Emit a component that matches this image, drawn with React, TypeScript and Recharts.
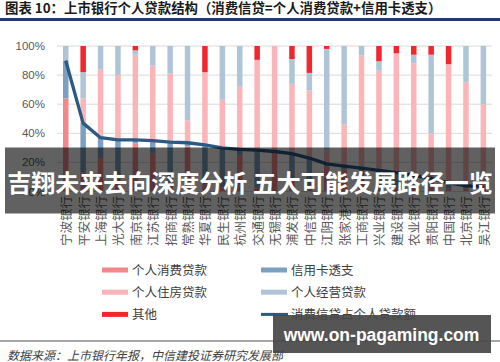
import React from 'react';
import { ComposedChart, Bar, Line, XAxis, YAxis, CartesianGrid } from 'recharts';

const banks = [
  '宁波银行', '平安银行', '上海银行', '光大银行', '南京银行', '江苏银行', '招商银行', '常熟银行',
  '华夏银行', '民生银行', '杭州银行', '交通银行', '无锡银行', '浦发银行', '中信银行', '江阴银行',
  '张家港行', '工商银行', '兴业银行', '建设银行', '农业银行', '贵阳银行', '中国银行', '北京银行', '吴江银行',
];
const consumerLoans = [64, 13, 23, 8, 33, 26, 6, 31, 5, 3, 25, 3, 27.5, 8, 4, 17, 15, 7, 2, 3, 4, 7, 2, 2, 2];
const cardOverdraft = [26, 34, 14, 27.5, 2.5, 9, 28, 2.5, 27, 27, 4, 25.5, 0, 18, 19, 2, 2.5, 9, 12.5, 10, 7, 2, 4, 2, 1];
const housingLoans = [0, 17, 47, 44.5, 58.5, 51.5, 47, 15.5, 50, 33, 43, 62, 72.5, 48, 46.5, 9, 28.5, 77.5, 68.5, 82, 77, 31, 81.5, 71, 57];
const businessLoans = [10, 18, 16, 20, 3, 13.5, 19, 51, 0, 37, 28, 0, 0, 17, 12, 70, 54, 6.5, 6.5, 0, 6, 54, 0, 25, 40];
const otherLoans = [0, 18, 0, 0, 3, 0, 0, 0, 18, 0, 0, 9.5, 0, 9, 18.5, 2, 0, 0, 10.5, 5, 6, 6, 12.5, 0, 0];
const consumerShare = [90, 47, 37, 35.5, 35.5, 35, 34, 33.5, 32, 30, 29, 28.5, 27.5, 26, 23, 19, 17.5, 16, 14.5, 13, 11, 9, 6, 4, 3];
const yTicks = [0, 10, 20, 30, 40, 50, 60, 70, 80, 90, 100];

const titleText = '图表 10：上市银行个人贷款结构（消费信贷=个人消费贷款+信用卡透支）';
const bannerText = '吉翔未来去向深度分析 五大可能发展路径一览';
const watermarkText = 'www.on-pagaming.com';
const sourceText = '数据来源：上市银行年报，中信建投证券研究发展部';

const C_CONSUMER = '#F4878B';
const C_CARD = '#7DA0C0';
const C_HOUSING = '#FBB4B7';
const C_BUSINESS = '#AFC5D7';
const C_OTHER = '#F2262D';
const C_LINE = '#2B5A82';

const legendItems = [
  { label: '个人消费贷款', color: C_CONSUMER, kind: 'bar' },
  { label: '信用卡透支', color: C_CARD, kind: 'bar' },
  { label: '个人住房贷款', color: C_HOUSING, kind: 'bar' },
  { label: '个人经营贷款', color: C_BUSINESS, kind: 'bar' },
  { label: '其他', color: C_OTHER, kind: 'bar' },
  { label: '消费信贷占个人贷款额', color: C_LINE, kind: 'line' },
];

const data = banks.map((name, i) => ({
  name,
  consumer: consumerLoans[i],
  card: cardOverdraft[i],
  housing: housingLoans[i],
  business: businessLoans[i],
  other: otherLoans[i],
  share: consumerShare[i],
}));

const CJK = '"Noto Sans CJK SC", "Noto Sans", sans-serif';

const XTick = (props: any) => {
  const { x, y, payload } = props;
  const ty = y + 4.5;
  return (
    <text
      x={x}
      y={ty}
      transform={`rotate(-90 ${x} ${ty})`}
      textAnchor="end"
      dominantBaseline="central"
      fontSize={12.5}
      fill="#595959"
      fontFamily={CJK}
    >
      {payload.value}
    </text>
  );
};

export default function App() {
  return (
    <div style={{ position: 'absolute', left: 0, top: 0, width: 500, height: 362, background: '#fff', overflow: 'hidden' }}>
      <div style={{ position: 'absolute', left: 0, top: 0 }}>
        <ComposedChart width={500} height={262} data={data} margin={{ top: 46, right: 8, bottom: 0, left: 0 }}>
          <CartesianGrid vertical={false} stroke="#D9D9D9" />
          <XAxis
            dataKey="name"
            interval={0}
            height={70.5}
            tickLine={false}
            tickSize={0}
            tickMargin={0}
            axisLine={{ stroke: '#D9D9D9' }}
            tick={<XTick />}
          />
          <YAxis
            width={57}
            domain={[0, 100]}
            ticks={yTicks}
            tickFormatter={(v: number) => `${v}%`}
            axisLine={false}
            tickLine={false}
            tickSize={0}
            tickMargin={12}
            tick={{ fontSize: 11.5, fill: '#595959', fontFamily: '"Liberation Sans", Arial, sans-serif' }}
          />
          <Bar dataKey="consumer" stackId="a" fill={C_CONSUMER} barSize={5.5} isAnimationActive={false} />
          <Bar dataKey="card" stackId="a" fill={C_CARD} barSize={5.5} isAnimationActive={false} />
          <Bar dataKey="housing" stackId="a" fill={C_HOUSING} barSize={5.5} isAnimationActive={false} />
          <Bar dataKey="business" stackId="a" fill={C_BUSINESS} barSize={5.5} isAnimationActive={false} />
          <Bar dataKey="other" stackId="a" fill={C_OTHER} barSize={5.5} isAnimationActive={false} />
          <Line
            dataKey="share"
            type="linear"
            stroke={C_LINE}
            strokeWidth={3.3}
            strokeLinejoin="round"
            dot={false}
            activeDot={false}
            isAnimationActive={false}
          />
        </ComposedChart>
      </div>
      <svg width={500} height={362} style={{ position: 'absolute', left: 0, top: 0 }}>
        <text x={5} y={13.2} fontSize={13.4} fontWeight="bold" fill="#1a1a1a" fontFamily={CJK}>{titleText}</text>
        <rect x={0} y={18} width={500} height={3} fill="#1F3B6B" />
        {legendItems.map((it, i) => {
          const col = i % 2;
          const row = Math.floor(i / 2);
          const cy = 270 + row * 22.2;
          const sx = col === 0 ? 102 : 261;
          return (
            <g key={it.label}>
              {it.kind === 'bar' ? (
                <rect x={sx} y={cy - 2.5} width={26} height={5} fill={it.color} />
              ) : (
                <rect x={sx} y={cy - 1.5} width={27} height={3} fill={it.color} />
              )}
              <text x={sx + 30} y={cy + 4.7} fontSize={12.5} fill="#404040" fontFamily={CJK}>{it.label}</text>
            </g>
          );
        })}
        <rect x={0} y={340} width={500} height={2} fill="#A6A6A6" />
        <text x={7} y={359.6} fontSize={12} fontStyle="italic" fill="#404040" fontFamily={CJK}>{sourceText}</text>
        <rect x={5} y={147.5} width={490} height={66} fill="rgba(0,0,0,0.62)" />
        <text x={250} y={191.6} textAnchor="middle" fontSize={24} fontWeight="bold" fill="#ffffff" fontFamily={CJK}>{bannerText}</text>
        <rect x={273} y={315} width={218} height={38} fill="rgba(70,70,70,0.92)" />
        <text x={381.5} y={340.7} textAnchor="middle" fontSize={17.5} fontWeight="bold" fill="#ffffff" fontFamily='"Liberation Sans", Arial, sans-serif'>{watermarkText}</text>
      </svg>
    </div>
  );
}
